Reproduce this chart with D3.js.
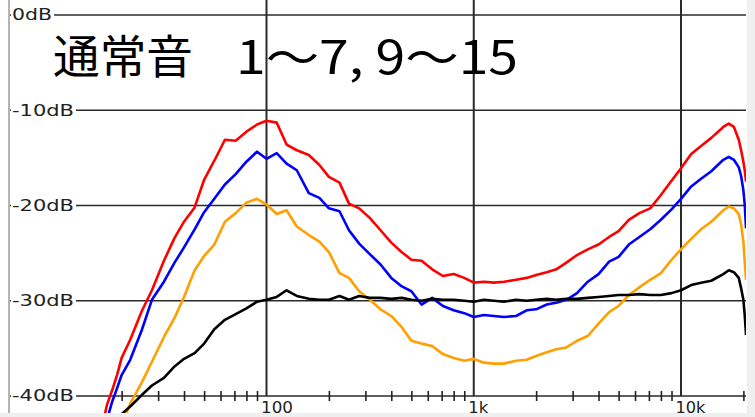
<!DOCTYPE html>
<html>
<head>
<meta charset="utf-8">
<script src="https://cdn.jsdelivr.net/npm/d3@7"></script>
<style>
  body { margin: 0; background: #fff; }
  svg { display: block; }
  .lbl { font-family: "DejaVu Sans", sans-serif; font-size: 15px; fill: #222; }
</style>
</head>
<body>
<script>
// frequency points (Hz) and levels (dB)
var freqs = [16,17,18,19,20,22,25,28,32,36,40,45,50,56,63,71,80,90,100,112,125,140,160,180,200,225,250,280,315,355,400,450,500,560,630,710,800,900,1000,1120,1250,1400,1600,1800,2000,2250,2500,2800,3150,3550,4000,4500,5000,5600,6300,7100,8000,9000,10000,11200,12500,14000,16000,17000,18000,19000,19500,20000,20300,20600];

var red = [-43.5,-40.9,-39.4,-37.8,-36.0, -34.1,-31.1,-28.9,-25.8,-23.4, -21.7,-20.2,-17.3,-15.3,-13.1,
  -13.2,-12.25,-11.5,-11.1,-11.3, -13.6,-14.2,-14.7,-15.75,-17.0, -17.6,-19.8,-20.3,-21.3,-22.6,
  -23.9,-24.9,-25.7,-25.8,-26.7, -27.4,-27.2,-27.6,-28.1,-28.0, -28.1,-28.0,-27.8,-27.6,-27.3,
  -27.0,-26.7,-26.0,-25.2,-24.6, -24.1,-23.3,-22.7,-21.5,-20.8, -20.3,-18.9,-17.4,-16.1,-14.6,
  -13.75,-12.9,-11.75,-11.4,-11.75, -13.1,-14.2,-15.4,-16.3,-17.5];

var blue = [-44,-42.5,-40.6,-39.2,-37.8, -36.2,-33.1,-29.9,-28.0,-26.0, -24.4,-22.5,-20.7,-19.3,-17.8,
  -16.7,-15.4,-14.35,-15.1,-14.5, -15.6,-16.3,-18.7,-19.2,-20.3, -20.6,-22.6,-24.0,-25.1,-26.2,
  -27.6,-28.5,-29.0,-30.4,-29.7, -30.55,-31.0,-31.3,-31.7,-31.5, -31.6,-31.7,-31.6,-31.0,-30.9,
  -30.4,-30.2,-29.9,-29.2,-28.0, -27.2,-25.9,-25.4,-24.1,-23.3, -22.5,-21.5,-20.4,-19.3,-18.0,
  -17.2,-16.4,-15.2,-14.9,-15.2, -16.0,-16.9,-18.4,-19.9,-22.4];

var orange = [-50,-48.5,-47,-45,-43.0, -40.8,-38.6,-36.4,-33.8,-31.8, -29.6,-26.8,-25.3,-24.1,-21.7,
  -20.8,-19.7,-19.3,-19.9,-20.9, -20.5,-22.2,-23.1,-23.8,-24.9, -27.1,-27.6,-29.0,-29.9,-30.9,
  -31.6,-32.8,-34.2,-34.5,-34.75, -35.6,-36.0,-36.3,-36.1,-36.5, -36.6,-36.6,-36.3,-36.2,-35.8,
  -35.4,-35.1,-34.9,-34.2,-33.7, -32.4,-31.2,-30.55,-29.4,-28.6, -27.8,-27.1,-25.7,-24.6,-23.5,
  -22.5,-21.7,-20.5,-20.1,-20.3, -20.9,-22.0,-23.8,-25.9,-27.8];

var black = [-45,-44,-43,-42.3,-41.9, -41.1,-39.9,-38.9,-38.1,-36.9, -36.1,-35.5,-34.5,-33.0,-32.0,
  -31.4,-30.8,-30.1,-29.9,-29.6, -28.9,-29.5,-29.8,-29.9,-29.9, -29.5,-29.9,-29.5,-29.7,-29.7,
  -29.8,-29.7,-29.9,-30.0,-29.8, -29.9,-29.9,-30.0,-30.1,-29.9, -30.0,-30.1,-29.9,-30.0,-29.9,
  -29.8,-29.9,-29.8,-29.8,-29.7, -29.6,-29.5,-29.4,-29.4,-29.3, -29.4,-29.4,-29.2,-28.9,-28.35,
  -28.1,-27.9,-27.2,-26.8,-27.0, -27.6,-28.7,-29.9,-31.5,-33.6];

var seriesColors = ["#ff0000", "#0000ff", "#ff9f00", "#000000"];
var levelTicks = [0, -10, -20, -30, -40];
var majorFreqs = [100, 1000, 10000];
var minorFreqs = [20,30,40,50,60,70,80,90,200,300,400,500,600,700,800,900,2000,3000,4000,5000,6000,7000,8000,9000,20000];
var titleMain = "通常音";
var titleSub = "1〜7, 9〜15";

var width = 755;
var height = 417;
var right = 746;
var bottom = 413;

var svg = d3.select("body")
    .append("svg")
    .attr("width", width)
    .attr("height", height);

var x = d3.scaleLog()
    .domain([100, 10000])
    .range([266.5, 681]);

var y = d3.scaleLinear()
    .domain([-40, 0])
    .range([396, 15]);

// panel edges
svg.append("rect").attr("x", right + 1).attr("y", 0).attr("width", width - right).attr("height", height).attr("fill", "#efefef");
svg.append("rect").attr("x", 0).attr("y", bottom).attr("width", width).attr("height", height - bottom).attr("fill", "#efefef");
svg.append("rect").attr("x", 8).attr("y", 0).attr("width", 2).attr("height", bottom).attr("fill", "#b4b4b4");

// vertical gridlines
svg.append("g")
    .selectAll("line")
    .data(majorFreqs)
    .enter()
    .append("line")
    .attr("x1", d => x(d)).attr("x2", d => x(d))
    .attr("y1", 0).attr("y2", y(-40))
    .attr("stroke", "#2a2a2a")
    .attr("stroke-width", 2);

// horizontal gridlines
svg.append("g")
    .selectAll("line")
    .data(levelTicks)
    .enter()
    .append("line")
    .attr("x1", 10).attr("x2", right)
    .attr("y1", d => y(d)).attr("y2", d => y(d))
    .attr("stroke", "#2a2a2a")
    .attr("stroke-width", 1.6);

// minor ticks on the bottom line
var minorAxis = svg.append("g")
    .attr("transform", "translate(0," + y(-40) + ")")
    .call(d3.axisBottom(x).tickValues(minorFreqs).tickSize(5).tickFormat(""));
minorAxis.select(".domain").remove();
minorAxis.selectAll(".tick line").attr("y1", -5).attr("stroke", "#222").attr("stroke-width", 1.6);

// curves
var plot = svg.append("g").attr("clip-path", "url(#clip)");
svg.append("clipPath").attr("id", "clip")
    .append("rect").attr("x", 10).attr("y", 0).attr("width", right - 10).attr("height", bottom);

var line = d3.line()
    .x((d, i) => x(freqs[i]))
    .y(d => y(d));

[red, blue, orange, black].forEach(function (s, k) {
    plot.append("path")
        .datum(s)
        .attr("fill", "none")
        .attr("stroke", seriesColors[k])
        .attr("stroke-width", 2.6)
        .attr("stroke-linejoin", "round")
        .attr("d", line);
});

// level labels
var yAxis = svg.append("g")
    .attr("transform", "translate(10,0)")
    .call(d3.axisRight(y).tickValues(levelTicks).tickSize(0).tickPadding(1).tickFormat(d => d + "dB"));
yAxis.select(".domain").remove();
yAxis.selectAll(".tick text")
    .attr("class", "lbl")
    .attr("font-family", null).attr("font-size", null)
    .attr("x", 2)
    .attr("textLength", d => d === 0 ? 40 : 62)
    .attr("lengthAdjust", "spacingAndGlyphs")
    .each(function () {
        var b = this.getBBox();
        d3.select(this.parentNode).insert("rect", "text")
            .attr("x", b.x - 1).attr("y", b.y + 2)
            .attr("width", b.width + 3).attr("height", b.height - 4)
            .attr("fill", "#fff");
    });

// frequency labels
var xAxis = svg.append("g")
    .attr("transform", "translate(0," + y(-40) + ")")
    .call(d3.axisBottom(x).tickValues(majorFreqs).tickSize(0).tickFormat(d3.format("~s")));
xAxis.select(".domain").remove();
xAxis.selectAll(".tick text")
    .attr("class", "lbl")
    .attr("font-family", null).attr("font-size", null)
    .attr("text-anchor", "start")
    .attr("x", -6)
    .attr("y", 17)
    .attr("dy", null)
    .attr("textLength", d => d === 100 ? 32 : d === 1000 ? 20 : 30)
    .attr("lengthAdjust", "spacingAndGlyphs");

// title
svg.append("text")
    .attr("x", 53).attr("y", 73)
    .attr("font-family", "'Noto Sans CJK JP', sans-serif")
    .attr("font-size", 46)
    .attr("textLength", 140)
    .attr("lengthAdjust", "spacingAndGlyphs")
    .text(titleMain);

svg.append("text")
    .attr("x", 236).attr("y", 74)
    .attr("font-family", "'Noto Sans CJK JP', sans-serif")
    .attr("font-size", 46)
    .attr("textLength", 282)
    .attr("lengthAdjust", "spacingAndGlyphs")
    .text(titleSub);
</script>
</body>
</html>
